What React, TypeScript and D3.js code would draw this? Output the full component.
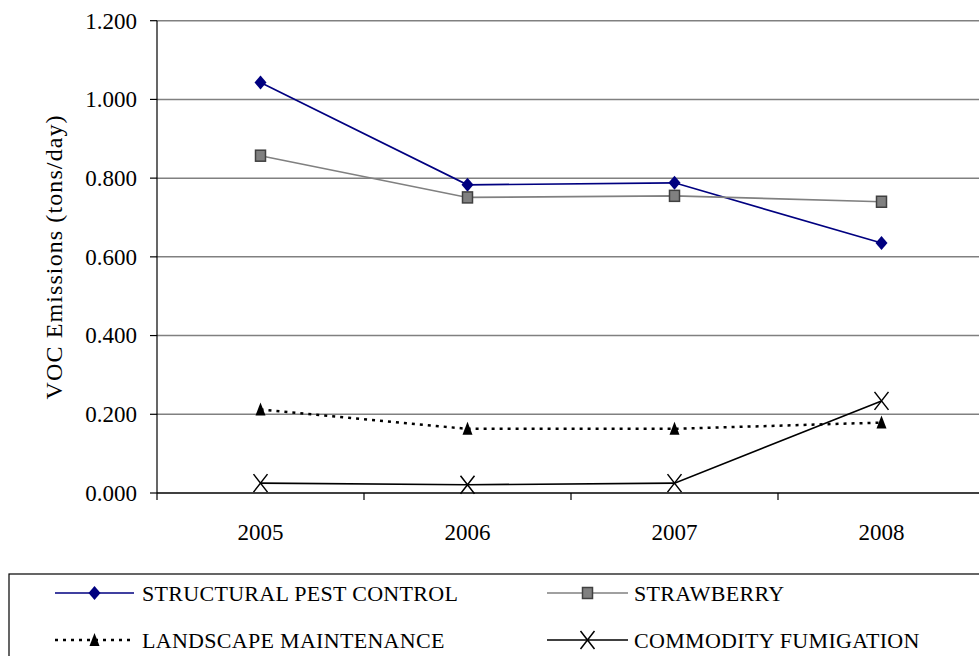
import React from "react";
import * as d3 from "d3";

const years = ["2005", "2006", "2007", "2008"];
const structuralPest = [1.043, 0.783, 0.788, 0.635];
const strawberry = [0.857, 0.751, 0.755, 0.74];
const landscape = [0.212, 0.163, 0.163, 0.179];
const commodity = [0.025, 0.021, 0.025, 0.234];
const yTicks = [0, 0.2, 0.4, 0.6, 0.8, 1.0, 1.2];

const W = 979;
const H = 656;
const left = 157;
const right = 985;
const top = 20.7;
const bottom = 493;
const SERIF = "'Liberation Serif', 'Times New Roman', Times, serif";

type Series = {
  name: string;
  values: number[];
  color: string;
  width: number;
  dash?: string;
  marker: "diamond" | "square" | "triangle" | "x";
};

const series: Series[] = [
  { name: "STRUCTURAL PEST CONTROL", values: structuralPest, color: "#000080", width: 1.6, marker: "diamond" },
  { name: "STRAWBERRY", values: strawberry, color: "#808080", width: 1.6, marker: "square" },
  { name: "LANDSCAPE MAINTENANCE", values: landscape, color: "#000000", width: 2.5, dash: "3 5", marker: "triangle" },
  { name: "COMMODITY FUMIGATION", values: commodity, color: "#000000", width: 1.6, marker: "x" },
];

function Marker({ kind, x, y }: { kind: Series["marker"]; x: number; y: number }) {
  if (kind === "diamond")
    return <path d={`M${x},${y - 7}L${x + 6},${y}L${x},${y + 7}L${x - 6},${y}Z`} fill="#000080" />;
  if (kind === "square")
    return <rect x={x - 5} y={y - 5.5} width={10} height={11} fill="#808080" stroke="#404040" strokeWidth={1.5} />;
  if (kind === "triangle")
    return <path d={`M${x},${y - 7}L${x + 5},${y + 6}L${x - 5},${y + 6}Z`} fill="#000" />;
  return (
    <path d={`M${x - 7},${y - 9}L${x + 7},${y + 9}M${x + 7},${y - 9}L${x - 7},${y + 9}`} stroke="#000" strokeWidth={1.5} fill="none" />
  );
}

export default function App() {
  const x = d3.scaleBand<string>().domain(years).range([left, right]);
  const y = d3.scaleLinear().domain([0, 1.2]).range([bottom, top]);
  const cx = (yr: string) => (x(yr) ?? 0) + x.bandwidth() / 2;
  const line = d3
    .line<number>()
    .x((_, i) => cx(years[i]))
    .y((d) => y(d));

  const xTickPos = years.map((yr) => x(yr) ?? 0).concat([right]);

  const legendRows = [
    { y: 593, items: [series[0], series[1]] },
    { y: 640, items: [series[2], series[3]] },
  ];
  const colX = [{ l0: 55, l1: 134, tx: 142 }, { l0: 547, l1: 628, tx: 634 }];

  return (
    <svg
      width={W}
      height={H}
      style={{ position: "absolute", left: 0, top: 0, background: "#fff", fontFamily: SERIF }}
    >
      <rect width={W} height={H} fill="#fff" />
      {/* gridlines */}
      {yTicks.slice(1).map((t) => (
        <line key={t} x1={left} x2={right} y1={y(t)} y2={y(t)} stroke="#808080" strokeWidth={1.5} />
      ))}
      {/* y axis */}
      <line x1={left} x2={left} y1={top} y2={bottom} stroke="#000" strokeWidth={1.2} />
      {yTicks.map((t) => (
        <g key={t}>
          <line x1={left - 7} x2={left} y1={y(t)} y2={y(t)} stroke="#000" strokeWidth={1.2} />
          <text x={left - 20} y={y(t)} dy="0.34em" textAnchor="end" fontSize={23} fill="#000">
            {d3.format(".3f")(t)}
          </text>
        </g>
      ))}
      <text
        transform={`translate(62,${(top + bottom) / 2}) rotate(-90)`}
        textAnchor="middle"
        fontSize={24}
        letterSpacing={1.1}
        fill="#000"
      >
        VOC Emissions (tons/day)
      </text>
      {/* x axis */}
      <line x1={left} x2={right} y1={bottom} y2={bottom} stroke="#000" strokeWidth={1.5} />
      {xTickPos.map((p, i) => (
        <line key={i} x1={p} x2={p} y1={bottom} y2={bottom + 7} stroke="#000" strokeWidth={1.2} />
      ))}
      {years.map((yr) => (
        <text key={yr} x={cx(yr)} y={540} textAnchor="middle" fontSize={23} fill="#000">
          {yr}
        </text>
      ))}
      {/* series */}
      {series.map((s) => (
        <g key={s.name}>
          <path
            d={line(s.values) ?? ""}
            fill="none"
            stroke={s.color}
            strokeWidth={s.width}
            strokeDasharray={s.dash}
          />
          {s.values.map((v, i) => (
            <Marker key={i} kind={s.marker} x={cx(years[i])} y={y(v)} />
          ))}
        </g>
      ))}
      {/* legend */}
      <rect x={9} y={574} width={W} height={100} fill="#fff" stroke="#000" strokeWidth={1.2} />
      {legendRows.map((row, ri) =>
        row.items.map((s, ci) => {
          const c = colX[ci];
          const mid = (c.l0 + c.l1) / 2;
          return (
            <g key={`${ri}-${ci}`}>
              <line
                x1={c.l0}
                x2={c.l1}
                y1={row.y}
                y2={row.y}
                stroke={s.color}
                strokeWidth={s.width}
                strokeDasharray={s.dash}
              />
              <Marker kind={s.marker} x={mid} y={row.y} />
              <text x={c.tx} y={row.y + 8} fontSize={22} letterSpacing={0.3} fill="#000">
                {s.name}
              </text>
            </g>
          );
        })
      )}
    </svg>
  );
}
